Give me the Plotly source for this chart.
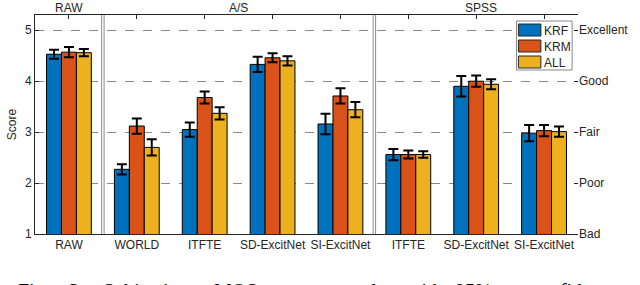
import plotly.graph_objects as go

categories = ["RAW", "WORLD", "ITFTE", "SD-ExcitNet", "SI-ExcitNet", "ITFTE", "SD-ExcitNet", "SI-ExcitNet"]
krf = [4.53, 2.27, 3.05, 4.33, 3.16, 2.56, 3.90, 2.98]
krm = [4.57, 3.12, 3.68, 4.46, 3.71, 2.56, 4.00, 3.03]
all_ = [4.56, 2.70, 3.37, 4.40, 3.44, 2.56, 3.94, 3.01]
krf_err = [0.09, 0.10, 0.14, 0.15, 0.20, 0.11, 0.20, 0.16]
krm_err = [0.10, 0.15, 0.12, 0.09, 0.15, 0.08, 0.11, 0.11]
all_err = [0.07, 0.16, 0.12, 0.09, 0.15, 0.065, 0.10, 0.10]
series_names = ["KRF", "KRM", "ALL"]
colors = ["#0072BD", "#D95319", "#EDB120"]
score_ticks = [1, 2, 3, 4, 5]
quality_labels = ["Bad", "Poor", "Fair", "Good", "Excellent"]
group_titles = ["RAW", "A/S", "SPSS"]
caption_words = ["Fig.", "3:", "Subjective", "MOS", "test", "results", "with", "95%", "confidence"]

W, H = 640, 285
L, R, T, B = 30, 54, 15, 51
FONT = "Liberation Sans, Arial, sans-serif"
TXT = "#262626"
group_centers = [0, 2.5, 6.07]
separators = [0.5, 4.5]
caption_x = [12, 64, 99, 212, 291, 339, 410, 459, 537]

xs = list(range(len(categories)))
fig = go.Figure()
for name, vals, errs, col in zip(series_names, [krf, krm, all_], [krf_err, krm_err, all_err], colors):
    fig.add_trace(go.Bar(
        x=xs, y=vals, name=name, marker=dict(color=col, line=dict(color="black", width=1)),
        error_y=dict(type="data", array=errs, color="black", thickness=2, width=5),
        showlegend=False,
    ))
# invisible trace for the right axis
fig.add_trace(go.Scatter(x=[0], y=[1], yaxis="y2", mode="markers", marker=dict(opacity=0), showlegend=False, hoverinfo="skip"))

fig.update_layout(
    width=W, height=H, margin=dict(l=L, r=R, t=T, b=B),
    paper_bgcolor="white", plot_bgcolor="white",
    barmode="group", bargap=0.34, bargroupgap=0,
    font=dict(family=FONT, size=12, color=TXT),
    xaxis=dict(range=[-0.5, 7.5], tickvals=xs, ticktext=categories, ticks="inside", ticklen=4,
               tickcolor="#262626", showline=True, linecolor="#262626", linewidth=1, mirror="ticks",
               showgrid=False, zeroline=False, layer="below traces", tickfont=dict(size=12, color=TXT)),
    yaxis=dict(range=[1, 5.3], tickvals=score_ticks, ticks="inside", ticklen=4, tickcolor="#262626",
               showline=True, linecolor="#262626", linewidth=1, showgrid=True, gridcolor="#8a8a8a",
               griddash="dash", gridwidth=1, zeroline=False, layer="below traces",
               tickfont=dict(size=12, color=TXT),
               title=dict(text="Score", standoff=5, font=dict(size=12, color=TXT))),
    yaxis2=dict(range=[1, 5.3], overlaying="y", side="right", tickvals=score_ticks, ticktext=quality_labels,
                ticks="inside", ticklen=4, tickcolor="#262626", showline=False, showgrid=False, zeroline=False,
                tickfont=dict(size=12, color=TXT)),
)

shapes = []
for s in separators:
    for d in (-0.018, 0.018):
        shapes.append(dict(type="line", xref="x", yref="paper", x0=s + d, x1=s + d, y0=0, y1=1,
                           line=dict(color="#8c8c8c", width=1)))

pw, ph = W - L - R, H - T - B
def px2paper(x, y):
    return (x - L) / pw, (H - B - y) / ph

# custom legend
bx0, by0 = px2paper(523, 21)
bx1, by1 = px2paper(580, 70)
shapes.append(dict(type="rect", xref="paper", yref="paper", x0=bx0, x1=bx1, y0=by1, y1=by0,
                   fillcolor="white", line=dict(color="#888888", width=1)))
ann = []
for i, (name, col) in enumerate(zip(series_names, colors)):
    top = 24 + i * 16
    x0p, y0p = px2paper(525, top)
    x1p, y1p = px2paper(548, top + 12)
    shapes.append(dict(type="rect", xref="paper", yref="paper", x0=x0p, x1=x1p, y0=y1p, y1=y0p,
                       fillcolor=col, line=dict(color="#262626", width=1)))
    tx, ty = px2paper(549, top + 6.5)
    ann.append(dict(text=name, xref="paper", yref="paper", x=tx, y=ty, xanchor="left", yanchor="middle",
                    showarrow=False, font=dict(size=12, color=TXT)))

for t, c in zip(group_titles, group_centers):
    ann.append(dict(text=t, xref="x", yref="paper", x=c, y=1, yshift=-1, xanchor="center", yanchor="bottom",
                    borderpad=0, showarrow=False, font=dict(size=12, color=TXT)))

for w, xp in zip(caption_words, caption_x):
    cx, cy = px2paper(xp, 279)
    ann.append(dict(text=w, xref="paper", yref="paper", x=cx, y=cy, xanchor="left", yanchor="top",
                    borderpad=0, showarrow=False,
                    font=dict(family="Liberation Serif, Times New Roman, serif", size=20, color="black")))

fig.update_layout(shapes=shapes, annotations=ann)
fig.write_html("out.html", config={"displayModeBar": False},
               post_script="document.body.style.margin='0';document.body.style.padding='0';document.body.style.overflow='hidden';")
